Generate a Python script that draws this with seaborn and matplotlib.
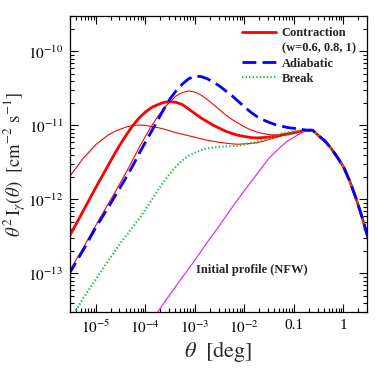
import matplotlib
matplotlib.use('Agg')

import matplotlib.pyplot as plt
from matplotlib.lines import Line2D
from matplotlib.ticker import LogLocator, FixedLocator, FixedFormatter, NullFormatter
import seaborn as sns
import numpy as np

# log10(theta [deg]) grid
log_theta = [-5.55, -5.25, -5.0, -4.75, -4.625, -4.5, -4.375, -4.25, -4.125, -4.0,
             -3.875, -3.75, -3.625, -3.5, -3.375, -3.25, -3.125, -3.0, -2.875, -2.75,
             -2.625, -2.5, -2.375, -2.25, -2.125, -2.0, -1.875, -1.75, -1.625, -1.5,
             -1.375, -1.25, -1.125, -1.0, -0.875,
             -0.75, -0.625, -0.5, -0.375, -0.25, -0.125, 0.0, 0.125, 0.25, 0.375, 0.5]

# log10(theta^2 I) before the common peak, one list per profile
log_contr_w06 = [-11.71, -11.44, -11.26, -11.13, -11.085, -11.05, -11.02, -11.00, -10.995, -11.00,
                 -11.015, -11.03, -11.05, -11.075, -11.10, -11.12, -11.14, -11.16, -11.18, -11.20,
                 -11.215, -11.23, -11.24, -11.25, -11.255, -11.25, -11.245, -11.235, -11.215, -11.19,
                 -11.165, -11.14, -11.12, -11.10, -11.08]
log_contr_w08 = [-12.52, -12.15, -11.84, -11.54, -11.39, -11.25, -11.12, -11.00, -10.90, -10.82,
                 -10.76, -10.72, -10.69, -10.68, -10.69, -10.72, -10.78, -10.84, -10.90, -10.95,
                 -11.00, -11.04, -11.08, -11.11, -11.135, -11.15, -11.165, -11.17, -11.165, -11.16,
                 -11.145, -11.13, -11.115, -11.10, -11.08]
log_contr_w1 = [-12.99, -12.65, -12.35, -12.06, -11.92, -11.77, -11.62, -11.46, -11.30, -11.15,
                -11.01, -10.88, -10.77, -10.68, -10.60, -10.555, -10.535, -10.55, -10.59, -10.65,
                -10.72, -10.79, -10.86, -10.92, -10.97, -11.02, -11.06, -11.09, -11.11, -11.125,
                -11.13, -11.125, -11.11, -11.09, -11.075]
log_adiabatic = [-13.02, -12.68, -12.38, -12.11, -11.97, -11.83, -11.69, -11.54, -11.38, -11.23,
                 -11.08, -10.93, -10.78, -10.64, -10.53, -10.44, -10.37, -10.335, -10.34, -10.37,
                 -10.415, -10.47, -10.535, -10.60, -10.675, -10.75, -10.82, -10.88, -10.925, -10.96,
                 -10.99, -11.01, -11.03, -11.04, -11.05]
log_break = [-13.67, -13.33, -13.08, -12.83, -12.71, -12.59, -12.48, -12.37, -12.26, -12.14,
             -12.01, -11.88, -11.76, -11.65, -11.55, -11.47, -11.41, -11.37, -11.335, -11.31,
             -11.30, -11.29, -11.285, -11.28, -11.27, -11.26, -11.24, -11.22, -11.195, -11.17,
             -11.14, -11.11, -11.095, -11.08, -11.07]
# NFW starts at log theta = -4
log_nfw = [-13.75, -13.635, -13.52, -13.40, -13.28, -13.165, -13.05, -12.935, -12.82, -12.70,
           -12.58, -12.465, -12.35, -12.23, -12.11, -11.995, -11.88, -11.77, -11.66, -11.55,
           -11.44, -11.36, -11.28, -11.21, -11.16, -11.11]
# all profiles coincide from log theta = -0.75 on
log_tail = [-11.065, -11.065, -11.14, -11.21, -11.31, -11.43, -11.56, -11.75, -11.98, -12.24, -12.53]

xtick_vals = [1e-5, 1e-4, 1e-3, 1e-2, 0.1, 1]
xtick_labels = ['$10^{-5}$', '$10^{-4}$', '$10^{-3}$', '$10^{-2}$', '0.1', '1']
ytick_vals = [1e-13, 1e-12, 1e-11, 1e-10]
ytick_labels = ['$10^{-13}$', '$10^{-12}$', '$10^{-11}$', '$10^{-10}$']

sns.set_style('ticks')
plt.rcParams['font.family'] = ['Liberation Serif', 'DejaVu Serif']
plt.rcParams['mathtext.fontset'] = 'stix'

theta = 10 ** np.array(log_theta)


def full(head):
    return 10 ** np.array(head + log_tail)


fig = plt.figure(figsize=(3.82, 3.82), dpi=100)
ax = fig.add_axes([0.183, 0.183, 0.778, 0.775])
ax.set_xscale('log')
ax.set_yscale('log')

red = '#ff0000'
blue = '#0000ff'
green = '#22bb44'
magenta = '#dd33ee'
dash = (0, (5, 2.2))
dot = (0, (0.6, 1.0))

sns.lineplot(x=theta[-len(log_nfw) - len(log_tail):], y=full(log_nfw), ax=ax, color=magenta, lw=0.9,
             estimator=None, sort=False)
sns.lineplot(x=theta, y=full(log_contr_w06), ax=ax, color=red, lw=0.8, estimator=None, sort=False)
sns.lineplot(x=theta, y=full(log_contr_w1), ax=ax, color=red, lw=0.8, estimator=None, sort=False)
sns.lineplot(x=theta, y=full(log_contr_w08), ax=ax, color=red, lw=2.0, estimator=None, sort=False)
sns.lineplot(x=theta, y=full(log_break), ax=ax, color=green, lw=1.6, linestyle=dot,
             estimator=None, sort=False)
sns.lineplot(x=theta, y=full(log_adiabatic), ax=ax, color=blue, lw=2.0, linestyle=dash,
             estimator=None, sort=False)

ax.set_xlim(3e-6, 3)
ax.set_ylim(3e-14, 3e-10)

ax.xaxis.set_major_locator(FixedLocator(xtick_vals))
ax.xaxis.set_major_formatter(FixedFormatter(xtick_labels))
ax.yaxis.set_major_locator(FixedLocator(ytick_vals))
ax.yaxis.set_major_formatter(FixedFormatter(ytick_labels))
ax.xaxis.set_minor_locator(LogLocator(base=10, subs=np.arange(2, 10), numticks=30))
ax.yaxis.set_minor_locator(LogLocator(base=10, subs=np.arange(2, 10), numticks=30))
ax.xaxis.set_minor_formatter(NullFormatter())
ax.yaxis.set_minor_formatter(NullFormatter())
ax.tick_params(which='both', direction='in', top=True, right=True, width=0.8, labelsize=11, colors='black')
ax.tick_params(which='major', length=6, pad=5)
ax.tick_params(which='minor', length=3)
for sp in ax.spines.values():
    sp.set_linewidth(0.9)
    sp.set_color('black')

ax.set_xlabel(r'$\theta\ \ [{\rm deg}]$', fontsize=16, labelpad=2)
ax.set_ylabel(r'$\theta^2\,{\rm I}_\gamma(\theta)\ \ [{\rm cm^{-2}\ s^{-1}}]$', fontsize=13.5)
ax.yaxis.set_label_coords(-0.14, 0.5)

ax.text(1.4e-2, 1.12e-13, 'Initial profile (NFW)', ha='center', va='center',
        fontsize=9, weight='bold')

handles = [Line2D([], [], color=red, lw=2.0),
           Line2D([], [], alpha=0),
           Line2D([], [], color=blue, lw=2.0, linestyle=dash),
           Line2D([], [], color=green, lw=1.6, linestyle=dot)]
labels = ['Contraction', '(w=0.6, 0.8, 1)', 'Adiabatic', 'Break']
ax.legend(handles, labels, loc='upper right', frameon=False, handlelength=2.7,
          handletextpad=0.45, labelspacing=0.25, borderaxespad=0.4, borderpad=0.5,
          prop={'weight': 'bold', 'size': 9})

fig.savefig('out.png', dpi=100)
